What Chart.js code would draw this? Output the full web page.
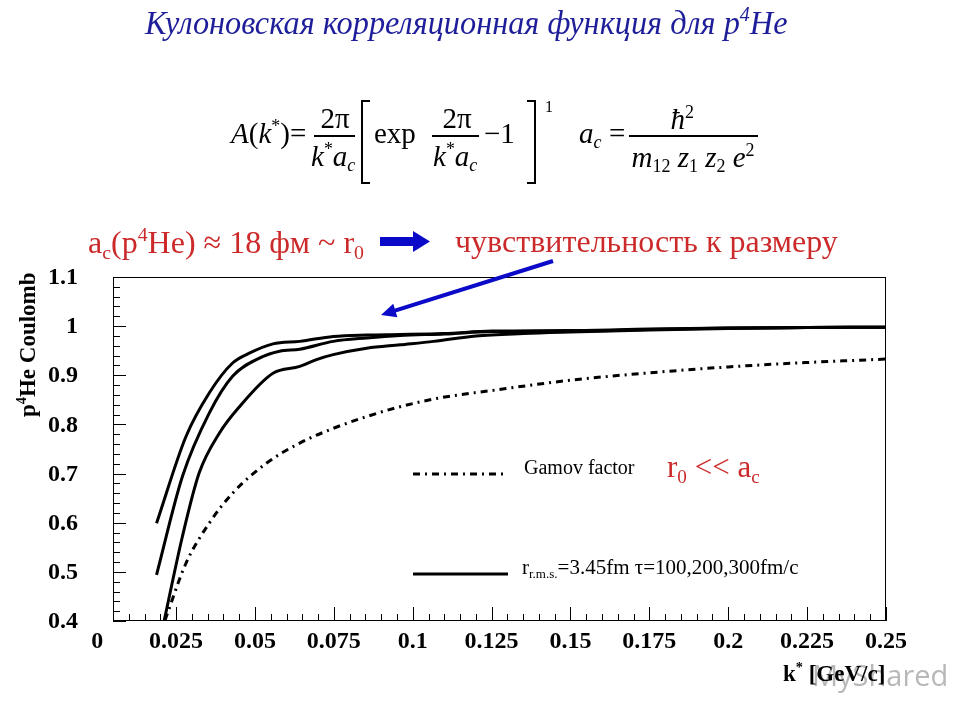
<!DOCTYPE html>
<html>
<head>
<meta charset="utf-8">
<script src="https://cdn.jsdelivr.net/npm/chart.js@4.4.1/dist/chart.umd.min.js"></script>
<style>
    body { margin: 0; background: #fff; }
    #wrap { position: relative; width: 960px; height: 720px; overflow: hidden; font-family: "Liberation Serif", "DejaVu Serif", serif; }
    #chart { position: absolute; left: 0; top: 0; }
    .t { position: absolute; white-space: nowrap; line-height: 1; }
    .t sup { font-size: .62em; position: relative; top: -.6em; vertical-align: baseline; line-height: 0; }
    .t sub { font-size: .62em; position: relative; top: .3em; vertical-align: baseline; line-height: 0; }
    .bar { position: absolute; height: 2px; background: #000; }
    .brk { position: absolute; width: 7px; height: 80px; border: 2px solid #000; }
</style>
</head>
<body>
<div id="wrap">
    <canvas id="chart" width="960" height="720"></canvas>
</div>
<script>
// k* values [GeV/c] and correlation values
const kGamov = [0.0215, 0.0281, 0.0355, 0.0429, 0.0536, 0.0642, 0.0748, 0.0854, 0.096, 0.1086, 0.125, 0.15, 0.175, 0.2, 0.225, 0.25];
const aGamov = [0.402, 0.517, 0.599, 0.66, 0.721, 0.762, 0.792, 0.816, 0.836, 0.854, 0.869, 0.89, 0.905, 0.917, 0.926, 0.933];

const kTau100 = [0.0188, 0.0281, 0.0355, 0.0429, 0.0482, 0.0557, 0.0642, 0.0748, 0.0854, 0.096, 0.11, 0.125, 0.15, 0.175, 0.2, 0.225, 0.25];
const aTau100 = [0.599, 0.775, 0.864, 0.925, 0.945, 0.964, 0.969, 0.979, 0.982, 0.983, 0.985, 0.99, 0.991, 0.994, 0.996, 0.997, 0.998];

const kTau200 = [0.0188, 0.027, 0.0355, 0.0429, 0.0514, 0.0578, 0.0642, 0.0748, 0.0854, 0.096, 0.11, 0.125, 0.15, 0.175, 0.2, 0.225, 0.25];
const aTau200 = [0.494, 0.694, 0.823, 0.898, 0.935, 0.949, 0.953, 0.969, 0.976, 0.981, 0.984, 0.989, 0.99, 0.993, 0.996, 0.997, 0.998];

const kTau300 = [0.0212, 0.027, 0.0323, 0.0387, 0.0451, 0.0557, 0.0642, 0.0695, 0.0748, 0.0854, 0.096, 0.1066, 0.12, 0.135, 0.15, 0.175, 0.2, 0.225, 0.25];
const aTau300 = [0.4, 0.572, 0.701, 0.782, 0.836, 0.904, 0.918, 0.932, 0.942, 0.955, 0.962, 0.969, 0.98, 0.985, 0.988, 0.992, 0.995, 0.997, 0.998];

// axis ticks
const xTicks = [0, 0.025, 0.05, 0.075, 0.1, 0.125, 0.15, 0.175, 0.2, 0.225, 0.25];
const xTickLabels = ['0', '0.025', '0.05', '0.075', '0.1', '0.125', '0.15', '0.175', '0.2', '0.225', '0.25'];
const yTicks = [0.4, 0.5, 0.6, 0.7, 0.8, 0.9, 1, 1.1];
const yTickLabels = ['0.4', '0.5', '0.6', '0.7', '0.8', '0.9', '1', '1.1'];
const xMinorStep = 0.005;
const yMinorStep = 0.02;

const pts = (xs, ys) => xs.map((x, i) => ({ x, y: ys[i] }));

const wrap = document.getElementById('wrap');

function put(html, x, base, size, opt = {}) {
    const d = document.createElement('div');
    d.className = 't';
    d.innerHTML = html;
    d.style.fontSize = size + 'px';
    d.style.top = (base - 0.8375 * size) + 'px';
    if (opt.color) d.style.color = opt.color;
    if (opt.italic) d.style.fontStyle = 'italic';
    if (opt.bold) d.style.fontWeight = 'bold';
    if (opt.font) d.style.fontFamily = opt.font;
    wrap.appendChild(d);
    const w = d.offsetWidth;
    d.style.left = (opt.align === 'center' ? x - w / 2 : opt.align === 'right' ? x - w : x) + 'px';
    if (opt.sx) {
        d.style.transformOrigin = '50% 50%';
        d.style.transform = 'scaleX(' + opt.sx + ')';
    }
    return d;
}

function bar(x1, x2, y) {
    const d = document.createElement('div');
    d.className = 'bar';
    d.style.left = x1 + 'px';
    d.style.width = (x2 - x1) + 'px';
    d.style.top = (y - 1) + 'px';
    wrap.appendChild(d);
}

function bracket(x, right) {
    const d = document.createElement('div');
    d.className = 'brk';
    d.style.left = x + 'px';
    d.style.top = '100px';
    d.style[right ? 'borderLeft' : 'borderRight'] = 'none';
    wrap.appendChild(d);
}

const RED = '#cc2a2a';
const BLUE = '#0a0ac8';

// title
put('Кулоновская корреляционная функция для p<sup>4</sup>He', 466, 34, 34, { align: 'center', italic: true, color: '#1e1e9a', sx: 0.95 });

// formula
put('<i>A</i>(<i>k</i><sup>*</sup>)=', 231, 143, 29);
put('2π', 335, 128, 29, { align: 'center' });
bar(314, 355, 136);
put('<i>k</i><sup>*</sup><i>a<sub>c</sub></i>', 333, 166, 29, { align: 'center' });
bracket(361, false);
put('exp', 374, 143, 29);
put('2π', 457, 128, 29, { align: 'center' });
bar(432, 479, 136);
put('<i>k</i><sup>*</sup><i>a<sub>c</sub></i>', 455, 166, 29, { align: 'center' });
put('−1', 484, 143, 29);
bracket(527, true);
put('1', 545, 112, 16);
put('<i>a<sub>c</sub></i>', 579, 143, 29);
put('=', 609, 143, 29);
put('<i>ħ</i><sup>2</sup>', 682, 129, 29, { align: 'center' });
bar(629, 758, 136);
put('<i>m</i><sub>12</sub> <i>z</i><sub>1</sub> <i>z</i><sub>2</sub> <i>e</i><sup>2</sup>', 693, 167, 29, { align: 'center' });

// annotations
put('a<sub>c</sub>(p<sup>4</sup>He) ≈ 18 фм ~ r<sub>0</sub>', 88, 253, 32, { color: RED });
put('чувствительность к размеру', 455, 252, 32, { color: RED });
put('r<sub>0</sub> &lt;&lt; a<sub>c</sub>', 667, 477, 31, { color: RED });

// legend text
put('Gamov factor', 524, 474, 20);
put('r<sub>r.m.s.</sub>=3.45fm τ=100,200,300fm/c', 522, 575, 21);

// axis titles
put('MyShared', 812, 684, 29, { font: '"Open Sans", sans-serif', color: '#b8b8b8' });
put('k<sup>*</sup> [GeV/c]', 885, 681, 23, { bold: true, align: 'right' });
const yt = put('p<sup>4</sup>He Coulomb', 0, 0, 23, { bold: true });
const ytW = yt.offsetWidth;
yt.style.transformOrigin = '0 0';
yt.style.transform = 'rotate(-90deg)';
yt.style.left = (35 - 0.8375 * 23) + 'px';
yt.style.top = (272 + ytW) + 'px';

const frame = {
    id: 'frame',
    afterDatasetsDraw(chart) {
        const { ctx, chartArea: a, scales: { x, y } } = chart;
        ctx.save();
        ctx.strokeStyle = '#000';
        ctx.lineWidth = 1;
        ctx.strokeRect(a.left + 0.5, a.top + 0.5, a.right - a.left - 1, a.bottom - a.top - 1);

        ctx.beginPath();
        for (let v = x.min; v <= x.max + 1e-9; v += xMinorStep) {
            const px = Math.round(x.getPixelForValue(v)) + 0.5;
            const major = Math.abs(v / 0.025 - Math.round(v / 0.025)) < 1e-6;
            ctx.moveTo(px, a.bottom);
            ctx.lineTo(px, a.bottom - (major ? 14 : 7));
        }
        for (let v = y.min; v <= y.max + 1e-9; v += yMinorStep) {
            const py = Math.round(y.getPixelForValue(v)) + 0.5;
            const major = Math.abs(v * 10 - Math.round(v * 10)) < 1e-6;
            ctx.moveTo(a.left, py);
            ctx.lineTo(a.left + (major ? 13 : 7), py);
        }
        ctx.stroke();

        ctx.fillStyle = '#000';
        ctx.font = 'bold 24px "Liberation Serif", serif';
        ctx.textBaseline = 'middle';
        ctx.textAlign = 'center';
        xTicks.forEach((v, i) => ctx.fillText(xTickLabels[i], x.getPixelForValue(v), a.bottom + 21));
        ctx.textAlign = 'right';
        yTicks.forEach((v, i) => ctx.fillText(yTickLabels[i], 78, y.getPixelForValue(v) + 1));

        // legend samples
        ctx.lineWidth = 3;
        ctx.setLineDash([7, 5, 2, 5]);
        ctx.beginPath();
        ctx.moveTo(413, 474);
        ctx.lineTo(508, 474);
        ctx.stroke();
        ctx.setLineDash([]);
        ctx.beginPath();
        ctx.moveTo(413, 574);
        ctx.lineTo(508, 574);
        ctx.stroke();

        // blue arrows
        ctx.fillStyle = BLUE;
        ctx.fillRect(380, 237, 34, 9);
        ctx.beginPath();
        ctx.moveTo(413, 231);
        ctx.lineTo(430, 241.5);
        ctx.lineTo(413, 252);
        ctx.closePath();
        ctx.fill();

        const tail = [553, 261], tip = [381, 315];
        const dx = tip[0] - tail[0], dy = tip[1] - tail[1];
        const len = Math.hypot(dx, dy), ux = dx / len, uy = dy / len;
        const bx = tip[0] - ux * 15, by = tip[1] - uy * 15;
        ctx.strokeStyle = BLUE;
        ctx.lineWidth = 4;
        ctx.beginPath();
        ctx.moveTo(tail[0], tail[1]);
        ctx.lineTo(bx + ux * 2, by + uy * 2);
        ctx.stroke();
        ctx.beginPath();
        ctx.moveTo(tip[0], tip[1]);
        ctx.lineTo(bx - uy * 7, by + ux * 7);
        ctx.lineTo(bx + uy * 7, by - ux * 7);
        ctx.closePath();
        ctx.fill();
        ctx.restore();
    }
};

const solid = { showLine: true, borderColor: '#000', borderWidth: 3, pointRadius: 0, cubicInterpolationMode: 'monotone', clip: 0 };

new Chart(document.getElementById('chart').getContext('2d'), {
    type: 'scatter',
    data: {
        datasets: [
            { ...solid, data: pts(kGamov, aGamov), borderDash: [7, 5, 2, 5] },
            { ...solid, data: pts(kTau100, aTau100) },
            { ...solid, data: pts(kTau200, aTau200) },
            { ...solid, data: pts(kTau300, aTau300) }
        ]
    },
    options: {
        responsive: false,
        animation: false,
        events: [],
        layout: { padding: { left: 113, top: 277, right: 74, bottom: 99 } },
        plugins: { legend: { display: false }, tooltip: { enabled: false } },
        scales: {
            x: { type: 'linear', min: 0.005, max: 0.25, display: false },
            y: { type: 'linear', min: 0.4, max: 1.1, display: false }
        }
    },
    plugins: [frame]
});
</script>
</body>
</html>
